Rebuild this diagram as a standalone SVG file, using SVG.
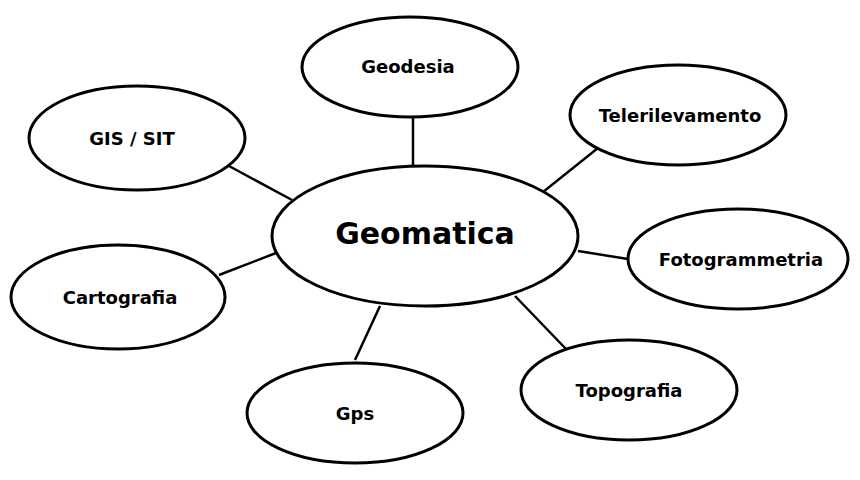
<svg xmlns="http://www.w3.org/2000/svg" width="860" height="480" viewBox="0 0 860 480">
<style>
ellipse{fill:#fff;stroke:#000;stroke-width:3}
line{stroke:#000;stroke-width:2.5}
text{font-family:"DejaVu Sans",sans-serif;font-weight:bold;font-size:18px;text-anchor:middle;dominant-baseline:central;fill:#000}
</style>
<rect width="860" height="480" fill="#fff"/>
<g id="connectors">
<line x1="413" y1="117" x2="413" y2="167"/>
<line x1="598" y1="148" x2="543" y2="192"/>
<line x1="229" y1="166" x2="292" y2="200"/>
<line x1="578" y1="251" x2="628" y2="259"/>
<line x1="219" y1="275" x2="276" y2="253"/>
<line x1="567" y1="350" x2="515" y2="296"/>
<line x1="355" y1="360" x2="380" y2="306"/>
</g>
<g id="geomatica"><ellipse cx="425" cy="236" rx="153" ry="70"/><text x="425" y="233" style="font-size:30px">Geomatica</text></g>
<g id="geodesia"><ellipse cx="410" cy="67" rx="108" ry="50"/><text x="408" y="66">Geodesia</text></g>
<g id="telerilevamento"><ellipse cx="678" cy="115" rx="108" ry="50"/><text x="680" y="115">Telerilevamento</text></g>
<g id="gis"><ellipse cx="137" cy="138" rx="108" ry="52"/><text x="132" y="138">GIS / SIT</text></g>
<g id="fotogrammetria"><ellipse cx="738" cy="259" rx="110" ry="50"/><text x="741" y="259">Fotogrammetria</text></g>
<g id="cartografia"><ellipse cx="118" cy="297" rx="107" ry="52"/><text x="120" y="297">Cartografia</text></g>
<g id="topografia"><ellipse cx="629" cy="390" rx="108" ry="50"/><text x="629" y="390">Topografia</text></g>
<g id="gps"><ellipse cx="355" cy="413" rx="108" ry="50"/><text x="355" y="413">Gps</text></g>
</svg>
